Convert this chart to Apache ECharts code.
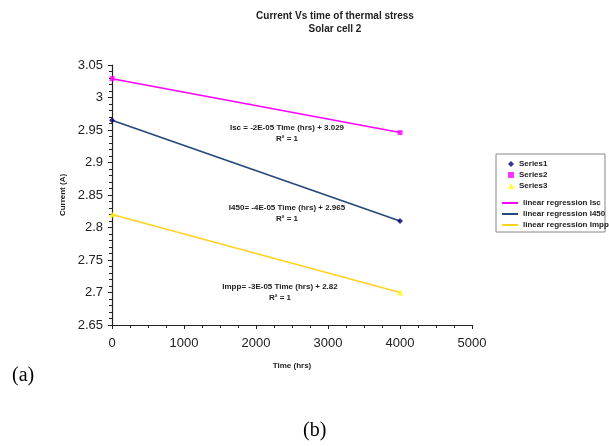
<!DOCTYPE html>
<html>
<head>
<meta charset="utf-8">
<script src="https://cdn.jsdelivr.net/npm/echarts@6/dist/echarts.min.js"></script>
<style>
  html, body { margin: 0; padding: 0; background: #fff; }
  #container { width: 609px; height: 446px; }
</style>
</head>
<body>
<div id="container"></div>
<script>
var timeHrs = [0, 4000];
var i450 = [2.965, 2.81];
var isc = [3.029, 2.946];
var impp = [2.82, 2.70];

function pairs(ys) {
    return timeHrs.map(function (t, i) { return [t, ys[i]]; });
}

var dom = document.getElementById("container");
var myChart = echarts.init(dom);
var font = 'Liberation Sans';
var lblStyle = { fontFamily: font, fontSize: 8, fontWeight: 'bold', color: '#222' };
var eqFont = 'bold 8px Liberation Sans';

var option = {
    backgroundColor: '#fff',
    animation: false,
    title: {
        text: 'Current Vs time of thermal stress\nSolar cell 2',
        left: 330,
        textAlign: 'center',
        top: 5,
        textStyle: { fontFamily: font, fontSize: 10, fontWeight: 'bold', color: '#222', lineHeight: 13 }
    },
    grid: { left: 112, right: 137, top: 65, bottom: 121 },
    xAxis: {
        type: 'value',
        min: 0, max: 5000, interval: 1000,
        name: 'Time (hrs)',
        nameLocation: 'middle',
        nameGap: 37,
        nameTextStyle: lblStyle,
        axisLine: { lineStyle: { color: '#222', width: 1.2 } },
        axisTick: { length: 4, lineStyle: { color: '#222' } },
        minorTick: { show: true, splitNumber: 4, length: 3, lineStyle: { color: '#222' } },
        splitLine: { show: false },
        axisLabel: {
            fontFamily: font, fontSize: 13, color: '#222', margin: 12,
            formatter: function (v) { return String(v); }
        }
    },
    yAxis: {
        type: 'value',
        min: 2.65, max: 3.05, interval: 0.05,
        name: 'Current (A)',
        nameLocation: 'middle',
        nameGap: 41,
        nameTextStyle: lblStyle,
        axisLine: { show: true, lineStyle: { color: '#222', width: 1.2 } },
        axisTick: { show: true, length: 4, lineStyle: { color: '#222' } },
        minorTick: { show: true, splitNumber: 5, length: 3, lineStyle: { color: '#222' } },
        splitLine: { show: false },
        axisLabel: {
            fontFamily: font, fontSize: 13, color: '#222', margin: 9,
            formatter: function (v) { return String(parseFloat(v.toFixed(2))); }
        }
    },
    legend: [{
        orient: 'vertical',
        left: 503, top: 155,
        itemWidth: 6, itemHeight: 6, itemGap: 3,
        textStyle: lblStyle,
        data: [
            { name: 'Series1', icon: 'diamond' },
            { name: 'Series2', icon: 'rect' },
            { name: 'Series3', icon: 'triangle' }
        ]
    }, {
        orient: 'vertical',
        left: 497, top: 194,
        itemWidth: 16, itemHeight: 2, itemGap: 3,
        icon: 'rect',
        textStyle: lblStyle,
        data: ['linear regression Isc', 'linear regression I450', 'linear regression Impp']
    }],
    graphic: [
        { type: 'rect', shape: { x: 496, y: 154, width: 109, height: 78 }, style: { fill: 'none', stroke: '#888', lineWidth: 1 } },
        { type: 'text', x: 287, y: 133, style: { text: 'Isc = -2E-05 Time (hrs) + 3.029\nR² = 1', align: 'center', verticalAlign: 'middle', font: eqFont, fill: '#222', lineHeight: 11 } },
        { type: 'text', x: 287, y: 213, style: { text: 'I450= -4E-05 Time (hrs) + 2.965\nR² = 1', align: 'center', verticalAlign: 'middle', font: eqFont, fill: '#222', lineHeight: 11 } },
        { type: 'text', x: 280, y: 292, style: { text: 'Impp= -3E-05 Time (hrs) + 2.82\nR² = 1', align: 'center', verticalAlign: 'middle', font: eqFont, fill: '#222', lineHeight: 11 } },
        { type: 'text', x: 12, y: 366, style: { text: '(a)', font: '20px Liberation Serif', fill: '#000' } },
        { type: 'text', x: 303, y: 421, style: { text: '(b)', font: '20px Liberation Serif', fill: '#000' } }
    ],
    series: [
        { name: 'linear regression Isc', type: 'line', data: pairs(isc), showSymbol: false, color: '#ff00ff', lineStyle: { width: 1.5 }, z: 2 },
        { name: 'linear regression I450', type: 'line', data: pairs(i450), showSymbol: false, color: '#27497a', lineStyle: { width: 1.8 }, z: 2 },
        { name: 'linear regression Impp', type: 'line', data: pairs(impp), showSymbol: false, color: '#ffd21f', lineStyle: { width: 1.5 }, z: 2 },
        { name: 'Series1', type: 'scatter', data: pairs(i450), symbol: 'diamond', symbolSize: 6, color: '#000080', z: 3 },
        { name: 'Series2', type: 'scatter', data: pairs(isc), symbol: 'rect', symbolSize: 5, color: '#ff00ff', z: 3 },
        { name: 'Series3', type: 'scatter', data: pairs(impp), symbol: 'triangle', symbolSize: 6, color: '#ffff00', z: 3 }
    ]
};

myChart.setOption(option);
</script>
</body>
</html>
